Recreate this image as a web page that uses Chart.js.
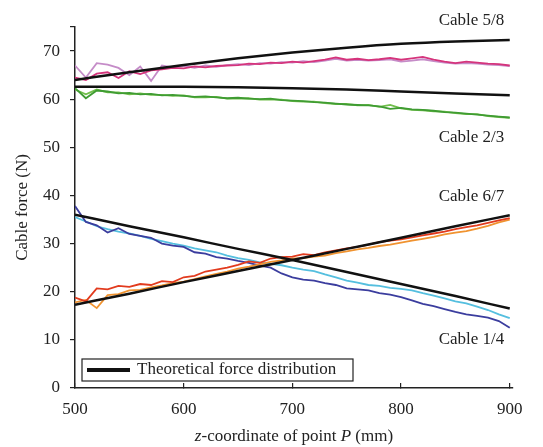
<!DOCTYPE html>
<html>
<head>
<meta charset="utf-8">
<script src="https://cdn.jsdelivr.net/npm/chart.js@4.4.1/dist/chart.umd.min.js"></script>
<style>
html, body { margin: 0; padding: 0; background: #fff; }
</style>
</head>
<body>
<canvas id="myChart" width="543" height="447"></canvas>
<script>
// z positions of the measured samples (mm)
var z = [500,510,520,530,540,550,560,570,580,590,600,610,620,630,640,650,660,670,680,690,
         700,710,720,730,740,750,760,770,780,790,800,810,820,830,840,850,860,870,880,890,900];
// z positions of the theoretical curves
var zTheory = [500,550,600,650,700,750,800,850,900];

var xTicks = [500,600,700,800,900];
var yTicks = [0,10,20,30,40,50,60,70,75];

// theoretical force distribution (N)
var theory58 = [64.0,65.6,67.1,68.5,69.7,70.7,71.5,72.0,72.3];
var theory23 = [62.6,62.6,62.6,62.5,62.3,62.0,61.6,61.2,60.8];
var theory67 = [17.3,19.6,22.0,24.3,26.6,28.9,31.2,33.6,35.9];
var theory14 = [36.0,33.6,31.3,28.9,26.6,24.1,21.6,19.1,16.5];

// measured cable forces (N)
var cable5 = [64.5,64.0,65.3,65.6,64.4,65.8,65.2,66.0,66.2,66.5,66.4,66.8,66.6,66.9,67.0,67.1,67.4,67.3,67.6,67.5,
              67.8,67.6,67.9,68.2,68.7,68.2,68.4,68.1,68.3,68.6,68.2,68.5,68.8,68.2,67.8,67.5,67.8,67.6,67.4,67.3,67.0];
var cable8 = [67.0,64.5,67.5,67.2,66.5,65.0,66.8,63.8,67.0,66.6,66.9,66.5,67.0,66.7,67.1,67.3,67.1,67.5,67.4,67.7,
              67.6,67.9,67.7,68.0,68.4,68.0,68.2,68.0,68.1,68.3,67.8,68.0,68.3,67.9,67.6,67.4,67.5,67.4,67.2,67.1,66.9];
var cable2 = [62.3,60.2,61.8,61.6,61.2,61.3,61.0,61.1,60.8,60.9,60.7,60.5,60.6,60.4,60.2,60.3,60.1,60.0,60.1,59.8,
              59.7,59.6,59.4,59.3,59.1,58.9,58.8,58.7,58.5,58.0,58.2,57.9,57.8,57.6,57.3,57.2,57.0,56.8,56.6,56.4,56.2];
var cable3 = [62.0,61.0,62.0,61.4,61.4,61.0,61.2,60.9,60.9,60.7,60.8,60.4,60.4,60.5,60.1,60.1,60.2,59.9,59.9,59.9,
              59.6,59.5,59.5,59.2,59.0,59.0,58.7,58.8,58.4,58.8,58.1,57.8,57.7,57.5,57.4,57.1,56.9,56.9,56.5,56.3,56.1];
var cable6 = [18.8,18.0,20.7,20.5,21.2,21.0,21.6,21.4,22.2,22.0,23.0,23.3,24.2,24.6,25.0,25.6,26.3,26.0,26.9,27.2,
              27.3,27.8,27.6,28.2,28.6,29.0,29.3,29.8,30.3,30.6,30.9,31.3,31.7,32.1,32.5,33.0,33.4,33.8,34.3,34.8,35.3];
var cable7 = [17.8,18.3,16.6,19.3,19.5,20.3,20.4,20.9,21.3,21.8,22.1,22.6,23.2,23.7,24.2,24.8,25.2,25.7,26.2,26.5,
              26.9,27.0,27.3,27.5,28.0,28.4,28.8,29.1,29.5,29.8,30.2,30.6,31.0,31.4,31.9,32.3,32.6,33.1,33.7,34.4,35.0];
var cable1 = [37.8,34.5,33.8,32.3,33.2,32.0,31.6,31.2,30.0,29.6,29.3,28.2,27.9,27.2,26.9,26.4,26.0,25.4,25.0,23.8,
              23.0,22.5,22.3,21.8,21.4,20.7,20.5,20.3,19.7,19.4,18.9,18.2,17.5,17.0,16.4,15.8,15.3,15.0,14.6,13.9,12.5];
var cable4 = [35.5,34.6,33.6,33.0,32.5,32.1,31.6,31.0,30.5,30.0,29.6,29.0,28.6,28.2,27.5,27.0,26.6,26.1,25.8,25.5,
              25.0,24.6,24.3,23.6,23.0,22.3,21.9,21.4,21.2,20.8,20.6,20.3,19.7,19.2,18.6,18.0,17.6,16.9,16.2,15.3,14.5];

var serif = '"Liberation Serif", "Times New Roman", serif';

function pts(xs, ys) {
  return xs.map(function (x, i) { return { x: x, y: ys[i] }; });
}
function theoryLine(ys) {
  return { data: pts(zTheory, ys), borderColor: "#111111", borderWidth: 2.5, pointRadius: 0,
           fill: false, cubicInterpolationMode: 'monotone' };
}
function measured(ys, color) {
  return { data: pts(z, ys), borderColor: color, borderWidth: 1.8, pointRadius: 0,
           fill: false, tension: 0 };
}

// text that Chart.js has no option for: x title with italics, cable labels, the legend box
var annotations = {
  id: 'annotations',
  afterDraw: function (chart) {
    var c = chart.ctx, xs = chart.scales.x, ys = chart.scales.y, area = chart.chartArea;
    c.save();
    c.fillStyle = "#222";
    c.textBaseline = "middle";

    // cable labels
    c.font = "17px " + serif;
    c.textAlign = "right";
    var lx = xs.getPixelForValue(895);
    c.fillText("Cable 5/8", lx, ys.getPixelForValue(76.4));
    c.fillText("Cable 2/3", lx, ys.getPixelForValue(52.0));
    c.fillText("Cable 6/7", lx, ys.getPixelForValue(39.7));
    c.fillText("Cable 1/4", lx, ys.getPixelForValue(10.0));

    // x axis title: z-coordinate of point P (mm)
    var parts = [["z", true], ["-coordinate of point ", false], ["P", true], [" (mm)", false]];
    var total = 0;
    parts.forEach(function (p) {
      c.font = (p[1] ? "italic " : "") + "17px " + serif;
      total += c.measureText(p[0]).width;
    });
    var tx = (area.left + area.right) / 2 - total / 2;
    c.textAlign = "left";
    parts.forEach(function (p) {
      c.font = (p[1] ? "italic " : "") + "17px " + serif;
      c.fillText(p[0], tx, 437);
      tx += c.measureText(p[0]).width;
    });

    // legend box
    var bx = area.left + 7, by = area.bottom - 29, bw = 271, bh = 22;
    c.fillStyle = "#fff";
    c.fillRect(bx, by, bw, bh);
    c.strokeStyle = "#222";
    c.lineWidth = 1.2;
    c.strokeRect(bx, by, bw, bh);
    c.strokeStyle = "#111";
    c.lineWidth = 4;
    c.beginPath();
    c.moveTo(bx + 5, by + bh / 2);
    c.lineTo(bx + 48, by + bh / 2);
    c.stroke();
    c.fillStyle = "#222";
    c.font = "17px " + serif;
    c.fillText("Theoretical force distribution", bx + 55, by + bh / 2);
    c.restore();
  }
};

var ctx = document.getElementById("myChart");
var myChart = new Chart(ctx, {
  type: 'line',
  data: {
    datasets: [
      theoryLine(theory58),
      theoryLine(theory23),
      theoryLine(theory67),
      theoryLine(theory14),
      measured(cable5, "#d5347c"),
      measured(cable8, "#c58cc8"),
      measured(cable2, "#3f9c32"),
      measured(cable3, "#72bf4c"),
      measured(cable6, "#e23b1e"),
      measured(cable7, "#f09330"),
      measured(cable1, "#3b3d9e"),
      measured(cable4, "#55bfdf")
    ]
  },
  options: {
    responsive: false,
    animation: false,
    layout: { padding: { left: 0, right: 30, top: 27, bottom: 0 } },
    plugins: { legend: { display: false }, tooltip: { enabled: false } },
    scales: {
      x: {
        type: 'linear',
        min: 500,
        max: 903,
        afterBuildTicks: function (s) { s.ticks = xTicks.map(function (v) { return { value: v }; }); },
        afterFit: function (s) { s.height = 59; },
        grid: { drawOnChartArea: false, drawTicks: true, tickLength: -5, color: "#222", lineWidth: 1.2 },
        border: { display: true, color: "#222", width: 1.5 },
        ticks: { padding: 16, color: "#222", font: { family: serif, size: 17 }, maxRotation: 0 }
      },
      y: {
        min: 0,
        max: 75,
        afterBuildTicks: function (s) { s.ticks = yTicks.map(function (v) { return { value: v }; }); },
        afterFit: function (s) { s.width = 75; },
        grid: { drawOnChartArea: false, drawTicks: true, tickLength: 5, color: "#222", lineWidth: 1.2 },
        border: { display: true, color: "#222", width: 1.5 },
        ticks: {
          padding: 10, color: "#222", font: { family: serif, size: 17 },
          callback: function (v) { return v % 10 === 0 ? v : ""; }
        },
        title: { display: true, text: "Cable force (N)", color: "#222",
                 font: { family: serif, size: 17 }, padding: { top: 12, bottom: 0 } }
      }
    }
  },
  plugins: [annotations]
});
</script>
</body>
</html>
